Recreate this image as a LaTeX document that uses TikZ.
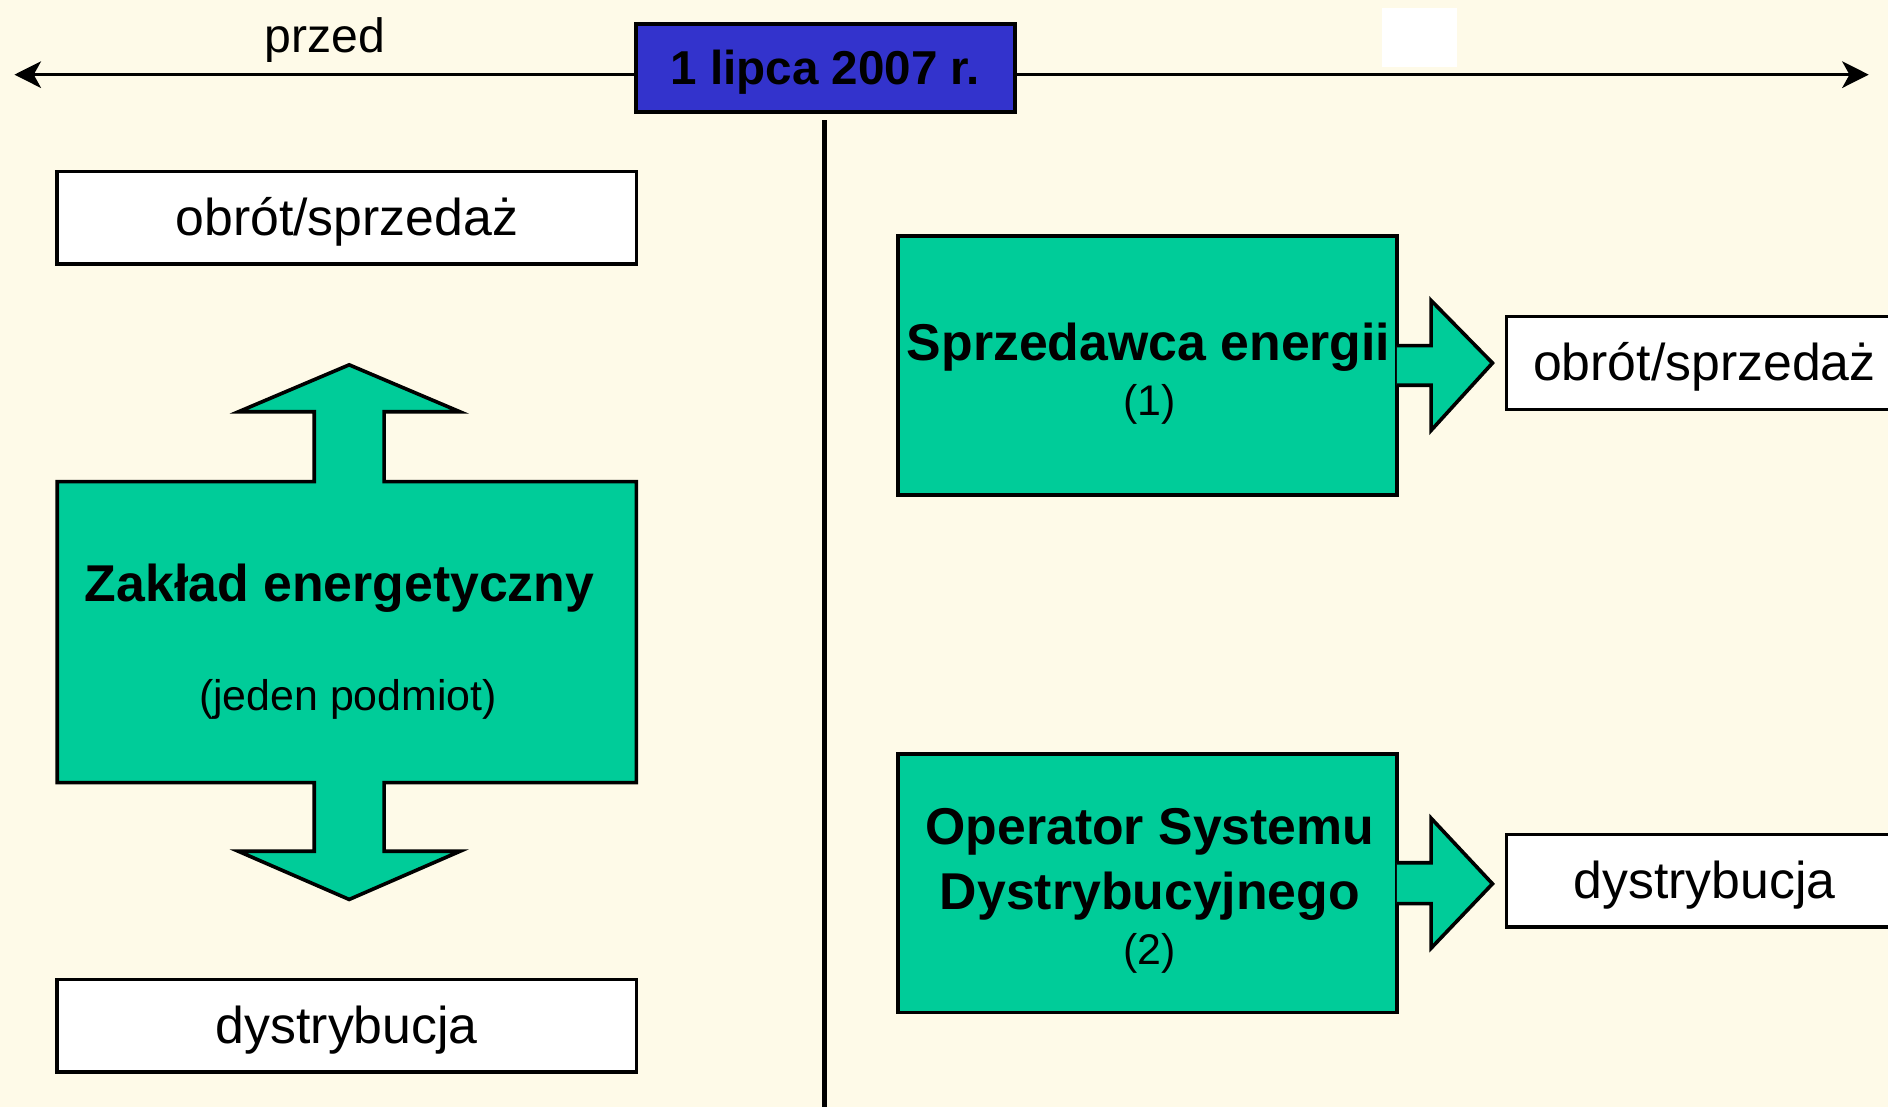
\documentclass[tikz,border=0pt]{standalone}
\usepackage{fontspec}
\setmainfont{Liberation Sans}
\usetikzlibrary{arrows.meta,calc}
\definecolor{bgcream}{HTML}{FEFAE8}
\definecolor{boxgreen}{HTML}{00CC99}
\definecolor{dateblue}{HTML}{3333CC}
\begin{document}
\begin{tikzpicture}[x=0.5pt,y=-0.5pt,line join=miter,
  wbox/.style={draw=black, line width=1.5pt, fill=white, inner sep=0pt,
    minimum height=38.5pt, text height=18pt, text depth=3.2pt,
    font=\fontsize{21.5}{26}\selectfont},
  gbox/.style={draw=black, line width=1.5pt, fill=boxgreen, inner sep=0pt,
    minimum width=207pt, minimum height=107.5pt},
  btxt/.style={font=\bfseries\fontsize{21.5}{26}\selectfont, inner sep=0pt},
  stxt/.style={font=\fontsize{17.8}{20}\selectfont, inner sep=0pt},
  blockarrow/.style={draw=black, line width=1.5pt, fill=boxgreen, line join=miter},
  timeline/.style={line width=1.5pt,
    {Stealth[length=11pt,width=11pt,inset=3pt]}-{Stealth[length=11pt,width=11pt,inset=3pt]}}]
\useasboundingbox[fill=bgcream] (0,0) rectangle (1568,919);
% white patch at top
\fill[white] (1148,7) rectangle (1210,56);
% timeline
\coordinate (tl) at (12,62);
\coordinate (tr) at (1552,62);
\draw[timeline] (tl) -- (tr);
\node[draw=black, line width=1.5pt, fill=dateblue, inner sep=0pt,
  minimum width=157.5pt, minimum height=36.5pt, text height=17.5pt, text depth=3.5pt,
  font=\bfseries\fontsize{19.75}{22}\selectfont] (date) at (685.5,56.5) {1 lipca 2007 r.};
\node[font=\fontsize{20}{24}\selectfont, inner sep=0pt] (przed) at (270,33) {przed};
% vertical divider
\coordinate (vtop) at (685,100);
\coordinate (vbot) at (685,925);
\draw[line width=2pt] (vtop) -- (vbot);
% left side
\node[wbox, minimum width=240.5pt] (lobrot) at (288,181) {obrót/sprzedaż};
\node[wbox, minimum width=240.5pt] (ldystr) at (288,852) {dystrybucja};
\filldraw[blockarrow] (47.5,400) -- (261,400) -- (261,342) -- (198,342) -- (290,303)
  -- (382,342) -- (319,342) -- (319,400) -- (528.5,400) -- (528.5,650)
  -- (319,650) -- (319,707) -- (382,707) -- (290,747) -- (198,707)
  -- (261,707) -- (261,650) -- (47.5,650) -- cycle;
\node[inner sep=0pt, minimum width=240.5pt, minimum height=125pt] (zaklad) at (288,525) {};
\node[btxt] (zakladT) at (282,488.5) {Zakład energetyczny};
\node[stxt] (zakladS) at (289,580.5) {(jeden podmiot)};
% right side
\node[gbox] (seller) at (953,303.5) {};
\node[btxt] (sellerT) at (954,288.5) {Sprzedawca energii};
\node[stxt] (sellerN) at (955,336) {(1)};
\node[gbox] (osd) at (953,733.5) {};
\node[btxt] (osdT1) at (955,690.5) {Operator Systemu};
\node[btxt] (osdT2) at (955,744.5) {Dystrybucyjnego};
\node[stxt] (osdN) at (955,792) {(2)};
\node[wbox, minimum width=164.5pt] (robrot) at (1415.5,301.5) {obrót/sprzedaż};
\node[wbox, minimum width=164.5pt] (rdystr) at (1415.5,731.5) {dystrybucja};
% block arrows
\filldraw[blockarrow] ($(seller.east)+(-1.5,-16.5)$) -- ++(28.5,0) -- ++(0,-37.5)
  -- ($(robrot.west)+(-10,0)$) -- ($(seller.east)+(27,54)$) -- ++(0,-37.5)
  -- ($(seller.east)+(-1.5,16.5)$);
\filldraw[blockarrow] ($(osd.east)+(-1.5,-17)$) -- ++(28.5,0) -- ++(0,-37)
  -- ($(rdystr.west)+(-10,2.5)$) -- ($(osd.east)+(27,54)$) -- ++(0,-37)
  -- ($(osd.east)+(-1.5,17)$);
\end{tikzpicture}
\end{document}
